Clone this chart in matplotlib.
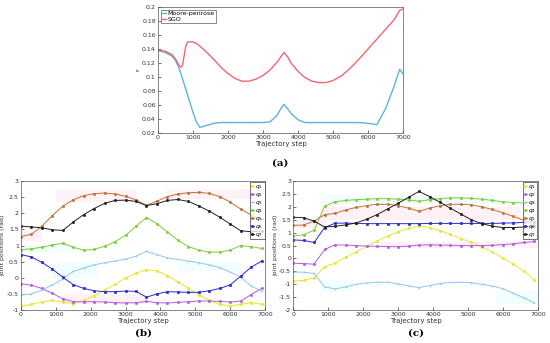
import numpy as np
import matplotlib.pyplot as plt
from matplotlib.patches import Rectangle

plt.rcParams.update({'font.size': 4.5, 'font.family': 'DejaVu Sans'})

# ---------------- (a) data ----------------
steps_a = [0, 200, 400, 500, 600, 650, 700, 750, 800, 850, 900, 1000, 1100, 1200, 1400,
           1600, 1800, 2000, 2200, 2400, 2600, 2800, 3000, 3200, 3400, 3500, 3600, 3700,
           3800, 4000, 4200, 4400, 4600, 4800, 5000, 5250, 5500, 5750, 6000, 6250, 6500,
           6750, 6900, 7000]
sgo = [0.138, 0.137, 0.132, 0.126, 0.117, 0.114, 0.116, 0.130, 0.145, 0.150, 0.150, 0.150,
       0.148, 0.144, 0.135, 0.125, 0.114, 0.105, 0.098, 0.094, 0.094, 0.097, 0.102, 0.110,
       0.121, 0.128, 0.135, 0.129, 0.120, 0.108, 0.099, 0.094, 0.092, 0.092, 0.095, 0.102,
       0.113, 0.126, 0.140, 0.154, 0.168, 0.182, 0.195, 0.197]
moore = [0.138, 0.135, 0.130, 0.124, 0.113, 0.106, 0.098, 0.090, 0.082, 0.074, 0.066, 0.050,
         0.036, 0.028, 0.031, 0.034, 0.035, 0.035, 0.035, 0.035, 0.035, 0.035, 0.035, 0.036,
         0.045, 0.054, 0.061, 0.055, 0.048, 0.039, 0.035, 0.035, 0.035, 0.035, 0.035, 0.035,
         0.035, 0.035, 0.034, 0.032, 0.055, 0.088, 0.111, 0.104]

# ---------------- (b) / (c) data ----------------
steps = list(range(0, 7000, 300))
labels = [r'$q_1$', r'$q_2$', r'$q_3$', r'$q_4$', r'$q_5$', r'$q_6$', r'$q_7$']
colors = ['#e6e632', '#b25ee0', '#8ec8ee', '#7ccc3c', '#c0703a', '#2a2ad0', '#202020']

q_b = [
    [-0.88, -0.82, -0.75, -0.70, -0.75, -0.80, -0.70, -0.55, -0.38, -0.20, 0.00, 0.14,
     0.25, 0.22, 0.07, -0.12, -0.33, -0.53, -0.70, -0.82, -0.88, -0.82, -0.77, -0.82],
    [-0.18, -0.23, -0.33, -0.48, -0.65, -0.74, -0.74, -0.74, -0.75, -0.77, -0.78, -0.77,
     -0.73, -0.77, -0.78, -0.76, -0.74, -0.72, -0.72, -0.73, -0.75, -0.72, -0.52, -0.33],
    [-0.53, -0.50, -0.38, -0.22, -0.04, 0.20, 0.30, 0.40, 0.47, 0.52, 0.58, 0.67,
     0.82, 0.72, 0.62, 0.57, 0.52, 0.47, 0.40, 0.32, 0.18, 0.02, -0.25, -0.42],
    [0.87, 0.90, 0.95, 1.02, 1.07, 0.95, 0.86, 0.88, 0.98, 1.12, 1.32, 1.60,
     1.87, 1.68, 1.42, 1.17, 0.97, 0.86, 0.80, 0.80, 0.86, 1.00, 0.97, 0.91],
    [1.28, 1.35, 1.60, 1.93, 2.22, 2.42, 2.55, 2.61, 2.63, 2.60, 2.53, 2.42,
     2.25, 2.38, 2.52, 2.60, 2.64, 2.65, 2.62, 2.52, 2.35, 2.13, 1.95, 1.82],
    [0.72, 0.65, 0.48, 0.27, 0.02, -0.21, -0.33, -0.40, -0.43, -0.43, -0.41, -0.42,
     -0.60, -0.50, -0.43, -0.44, -0.45, -0.45, -0.40, -0.33, -0.22, 0.05, 0.33, 0.52],
    [1.60, 1.58, 1.55, 1.49, 1.47, 1.73, 1.96, 2.15, 2.31, 2.40, 2.41, 2.37,
     2.24, 2.30, 2.40, 2.43, 2.37, 2.23, 2.07, 1.88, 1.67, 1.46, 1.43, 1.45],
]

q_c = [
    [-0.88, -0.85, -0.75, -0.32, -0.18, 0.05, 0.25, 0.47, 0.68, 0.87, 1.03, 1.17,
     1.27, 1.20, 1.08, 0.93, 0.77, 0.63, 0.45, 0.25, 0.02, -0.22, -0.50, -0.82],
    [-0.18, -0.20, -0.22, 0.35, 0.53, 0.52, 0.50, 0.48, 0.47, 0.46, 0.46, 0.48,
     0.52, 0.53, 0.52, 0.51, 0.50, 0.50, 0.50, 0.51, 0.54, 0.57, 0.62, 0.66],
    [-0.53, -0.53, -0.58, -1.10, -1.18, -1.10, -1.00, -0.95, -0.92, -0.92, -0.98, -1.06,
     -1.13, -1.05, -0.97, -0.93, -0.92, -0.94, -1.00, -1.07, -1.17, -1.35, -1.53, -1.72],
    [0.87, 0.92, 1.10, 2.02, 2.20, 2.25, 2.28, 2.30, 2.32, 2.32, 2.30, 2.27,
     2.22, 2.28, 2.32, 2.35, 2.35, 2.33, 2.30, 2.25, 2.20, 2.17, 2.15, 2.17],
    [1.28, 1.30, 1.45, 1.70, 1.75, 1.88, 1.98, 2.05, 2.10, 2.10, 2.05, 1.95,
     1.83, 1.95, 2.05, 2.10, 2.10, 2.08, 2.00, 1.90, 1.77, 1.63, 1.48, 1.38],
    [0.72, 0.70, 0.62, 1.20, 1.37, 1.37, 1.36, 1.35, 1.35, 1.35, 1.35, 1.35,
     1.35, 1.36, 1.36, 1.36, 1.36, 1.36, 1.36, 1.36, 1.37, 1.38, 1.40, 1.43],
    [1.60, 1.58, 1.45, 1.22, 1.25, 1.30, 1.38, 1.52, 1.70, 1.92, 2.14, 2.37,
     2.60, 2.40, 2.18, 1.95, 1.72, 1.50, 1.35, 1.25, 1.20, 1.20, 1.22, 1.25],
]

# faint background patches (x0, x1, y0, y1, colour)
bands_b = [(1000, 3300, 2.35, 2.75, '#ff9ec0'), (4200, 6700, 2.45, 2.75, '#ff9ec0'),
           (0, 600, 1.15, 1.45, '#ff9ec0'), (0, 1500, 0.8, 1.0, '#9ef0f0'),
           (900, 2200, 0.0, 0.5, '#9ef0f0'), (4500, 6300, 0.2, 0.5, '#9ef0f0'),
           (1200, 3600, -0.8, -0.5, '#ff9ec0'), (5000, 7000, -0.9, -0.7, '#ffff90')]
bands_c = [(800, 5800, 2.1, 2.45, '#9ef0f0'), (800, 6500, 1.5, 2.0, '#ff9ec0'),
           (0, 900, 1.2, 1.5, '#ff9ec0'), (2500, 7000, 0.4, 0.65, '#ff9ec0'),
           (800, 1700, -1.25, -0.85, '#9ef0f0'), (5800, 7000, -1.75, -1.25, '#9ef0f0'),
           (0, 700, -1.0, -0.7, '#ffff90')]


def style_axes(ax):
    ax.tick_params(direction='in', length=2, width=0.4, pad=1.5, labelsize=4.5,
                   labelcolor='#333333')
    for s in ax.spines.values():
        s.set_linewidth(0.5)
        s.set_color('#555555')
    ax.set_xlim(0, 7000)
    ax.set_xticks(range(0, 7001, 1000))
    ax.set_xlabel('Trajectory step', fontsize=5, labelpad=0.5, color='#333333')


fig = plt.figure(figsize=(5.5, 3.43), dpi=100)

# ---------- (a) ----------
ax = fig.add_axes([0.287, 0.612, 0.446, 0.368])
ax.plot(steps_a, moore, color='#5fb3d9', lw=1.0, label='Moore-penrose')
ax.plot(steps_a, sgo, color='#ef6570', lw=1.0, label='SGO')
style_axes(ax)
ax.set_ylim(0.02, 0.2)
ax.set_yticks(np.arange(0.02, 0.201, 0.02))
ax.set_yticklabels(['0.02', '0.04', '0.06', '0.08', '0.1', '0.12', '0.14', '0.16', '0.18', '0.2'])
ax.set_ylabel('r', fontsize=4.5, labelpad=1)
leg = ax.legend(loc='upper left', fontsize=4.5, handlelength=0.6, handletextpad=0.3,
                borderpad=0.15, labelspacing=0.05, fancybox=False, borderaxespad=0.5)
leg.get_frame().set_edgecolor('#333333')
leg.get_frame().set_linewidth(0.5)
fig.text(0.51, 0.525, '(a)', ha='center', va='center', fontsize=7.5, fontweight='bold',
         family='DejaVu Serif')

# ---------- (b) and (c) ----------
panels = [([0.038, 0.096, 0.444, 0.376], q_b, bands_b, (-1, 3), '(b)', 0.26),
          ([0.533, 0.096, 0.445, 0.376], q_c, bands_c, (-2, 3), '(c)', 0.757)]
markers = ['o', 'o', '+', 'o', 'o', 's', 'o']
for rect, qs, bands, ylim, cap, cx in panels:
    ax = fig.add_axes(rect)
    for x0, x1, y0, y1, c in bands:
        ax.add_patch(Rectangle((x0, y0), x1 - x0, y1 - y0, color=c, alpha=0.13, lw=0, zorder=0))
    for q, c, lab, m in zip(qs, colors, labels, markers):
        ax.plot(steps, q, color=c, lw=0.7, marker=m, ms=1.6, mew=0.5, label=lab)
    style_axes(ax)
    ax.set_ylim(*ylim)
    ax.set_yticks(np.arange(ylim[0], 3.01, 0.5))
    ax.set_yticklabels(['%g' % v for v in np.arange(ylim[0], 3.01, 0.5)])
    ax.set_ylabel('joint positions (rad)', fontsize=4.5, labelpad=1, color='#333333')
    leg = ax.legend(loc='upper right', fontsize=4.3, handlelength=0.6, handletextpad=0.2,
                    borderpad=0.15, labelspacing=0.0, fancybox=False, borderaxespad=0.1)
    leg.get_frame().set_edgecolor('#333333')
    leg.get_frame().set_linewidth(0.6)
    fig.text(cx, 0.03, cap, ha='center', va='center', fontsize=7.5, fontweight='bold',
             family='DejaVu Serif')

fig.savefig('out.png', dpi=100)
